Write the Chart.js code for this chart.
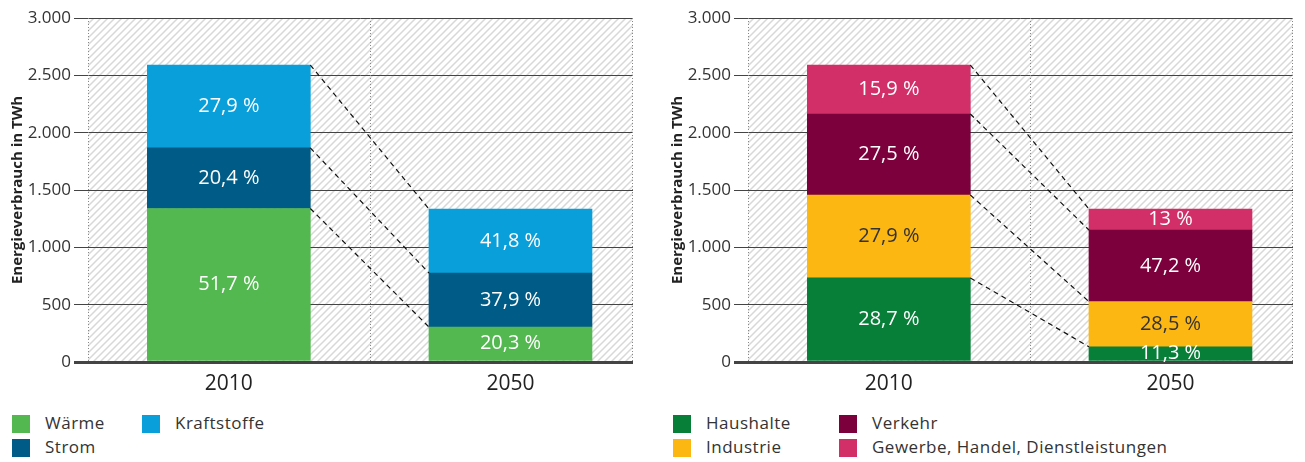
<!DOCTYPE html>
<html>
<head>
<meta charset="utf-8">
<script src="https://cdn.jsdelivr.net/npm/chart.js@4"></script>
<style>
  body { margin: 0; background: #fff; font-family: "Open Sans", sans-serif; color: #333; }
  #wrap { position: relative; width: 1305px; height: 462px; }
  canvas { position: absolute; top: 0; }
  .legend { position: absolute; top: 414px; font-size: 17px; letter-spacing: 0.5px; }
  .item { position: absolute; white-space: nowrap; height: 20px; line-height: 20px; }
  .item span { position: absolute; left: 0; top: 1px; width: 18px; height: 18px; }
  .item b { position: absolute; left: 33px; top: -1px; font-weight: normal; }
</style>
</head>
<body>
<div id="wrap">
  <canvas id="leftChart" width="645" height="400" style="left:0"></canvas>
  <canvas id="rightChart" width="645" height="400" style="left:660px"></canvas>
  <div class="legend" id="leftLegend" style="left:12px"></div>
  <div class="legend" id="rightLegend" style="left:673px"></div>
</div>
<script>
const years = ["2010", "2050"];
const yTicks = [0, 500, 1000, 1500, 2000, 2500, 3000];

// Energieverbrauch nach Anwendung (TWh)
const waerme = [1339, 305];
const strom = [528, 471];
const kraftstoffe = [723, 558];
const waermeLabels = ["51,7 %", "20,3 %"];
const stromLabels = ["20,4 %", "37,9 %"];
const kraftstoffeLabels = ["27,9 %", "41,8 %"];

// Energieverbrauch nach Sektor (TWh)
const haushalte = [733, 133];
const industrie = [723, 393];
const verkehr = [707, 625];
const gewerbe = [427, 183];
const haushalteLabels = ["28,7 %", "11,3 %"];
const industrieLabels = ["27,9 %", "28,5 %"];
const verkehrLabels = ["27,5 %", "47,2 %"];
const gewerbeLabels = ["15,9 %", "13 %"];

document.addEventListener("DOMContentLoaded", function () {
  const font = "Open Sans";

  // hatch pattern for plot background
  const pc = document.createElement("canvas");
  pc.width = 7;
  pc.height = 7;
  const px = pc.getContext("2d");
  px.fillStyle = "#fff";
  px.fillRect(0, 0, 7, 7);
  px.strokeStyle = "#d8d8d8";
  px.lineWidth = 1.5;
  px.beginPath();
  px.moveTo(-1, 8); px.lineTo(8, -1);
  px.moveTo(-1, 1); px.lineTo(1, -1);
  px.moveTo(6, 8); px.lineTo(8, 6);
  px.stroke();

  const backgroundPlugin = {
    id: "hatch",
    beforeDraw(chart) {
      const a = chart.chartArea;
      const ctx = chart.ctx;
      ctx.save();
      ctx.fillStyle = ctx.createPattern(pc, "repeat");
      ctx.fillRect(a.left, a.top, a.right - a.left, a.bottom - a.top);
      ctx.restore();
    },
    beforeDatasetsDraw(chart) {
      // dotted verticals: left edge, category boundary, right edge
      const a = chart.chartArea;
      const ctx = chart.ctx;
      const xs = [a.left + 0.5, Math.round(chart.scales.x.getPixelForValue(0.5)) + 0.5, a.right - 0.5];
      ctx.save();
      ctx.strokeStyle = "#888";
      ctx.lineWidth = 1;
      ctx.setLineDash([1, 2]);
      xs.forEach((x) => {
        ctx.beginPath();
        ctx.moveTo(x, a.top);
        ctx.lineTo(x, a.bottom);
        ctx.stroke();
      });
      ctx.restore();
    },
  };

  const labelPlugin = {
    id: "segLabels",
    afterDatasetsDraw(chart) {
      const ctx = chart.ctx;
      ctx.save();
      // dashed connectors between the two bars
      ctx.strokeStyle = "#111";
      ctx.lineWidth = 1.2;
      ctx.setLineDash([5, 4]);
      chart.data.datasets.forEach((ds, i) => {
        const els = chart.getDatasetMeta(i).data;
        const a = els[0].getProps(["x", "y", "width"], true);
        const b = els[1].getProps(["x", "y", "width"], true);
        ctx.beginPath();
        ctx.moveTo(a.x + a.width / 2, a.y);
        ctx.lineTo(b.x - b.width / 2, b.y);
        ctx.stroke();
      });
      ctx.setLineDash([]);
      ctx.font = "20px '" + font + "'";
      ctx.textAlign = "center";
      ctx.textBaseline = "middle";
      chart.data.datasets.forEach((ds, i) => {
        chart.getDatasetMeta(i).data.forEach((el, j) => {
          const p = el.getProps(["x", "y", "base"], true);
          ctx.fillStyle = ds.labelColor;
          ctx.fillText(ds.labels[j], p.x, (p.y + p.base) / 2);
        });
      });
      ctx.restore();
    },
  };

  function points(values) {
    return values.map((v, i) => ({ x: i, y: v }));
  }

  function makeChart(id, datasets) {
    return new Chart(document.getElementById(id), {
      type: "bar",
      data: {
        datasets: datasets.map((d) => ({
          label: d.label,
          data: points(d.values),
          labels: d.labels,
          labelColor: d.labelColor || "#fff",
          backgroundColor: d.color,
          borderWidth: 0,
          barThickness: 163,
        })),
      },
      options: {
        responsive: false,
        animation: false,
        layout: { padding: { top: 18, right: 12, left: 0, bottom: 0 } },
        scales: {
          x: {
            type: "linear",
            stacked: true,
            offset: false,
            min: -0.5,
            max: 1.435,
            afterBuildTicks(scale) {
              scale.ticks = [{ value: 0 }, { value: 1 }];
            },
            afterFit(scale) {
              scale.height = 38;
            },
            ticks: {
              callback: (v) => years[v],
              color: "#222",
              font: { family: font, size: 21 },
              padding: 1,
              maxRotation: 0,
            },
            grid: { display: false, offset: false },
            border: { display: false },
          },
          y: {
            stacked: true,
            min: 0,
            max: 3000,
            afterBuildTicks(scale) {
              scale.ticks = yTicks.map((v) => ({ value: v }));
            },
            afterFit(scale) {
              scale.width = 88;
            },
            ticks: {
              callback: (v) => v.toLocaleString("de-DE"),
              color: "#333",
              font: { family: font, size: 17 },
              padding: 3,
            },
            grid: {
              color: "#444",
              lineWidth: (c) => (c.tick && c.tick.value === 0 ? 3 : 1),
              tickLength: 14,
            },
            border: { display: false },
            title: {
              display: true,
              text: "Energieverbrauch in TWh",
              color: "#222",
              font: { family: font, size: 15, weight: "bold" },
              padding: { top: 9, bottom: 0 },
            },
          },
        },
        plugins: {
          legend: { display: false },
          tooltip: { enabled: false },
        },
      },
      plugins: [backgroundPlugin, labelPlugin],
    });
  }

  const leftSets = [
    { label: "Wärme", values: waerme, labels: waermeLabels, color: "#52b84f" },
    { label: "Strom", values: strom, labels: stromLabels, color: "#005c86" },
    { label: "Kraftstoffe", values: kraftstoffe, labels: kraftstoffeLabels, color: "#089fda" },
  ];
  const rightSets = [
    { label: "Haushalte", values: haushalte, labels: haushalteLabels, color: "#077f38" },
    { label: "Industrie", values: industrie, labels: industrieLabels, color: "#fdb713", labelColor: "#333" },
    { label: "Verkehr", values: verkehr, labels: verkehrLabels, color: "#7b003b" },
    { label: "Gewerbe, Handel, Dienstleistungen", values: gewerbe, labels: gewerbeLabels, color: "#d22f69" },
  ];

  makeChart("leftChart", leftSets);
  makeChart("rightChart", rightSets);

  // legends: two columns, filled top to bottom
  function renderLegend(id, sets, colX) {
    document.getElementById(id).innerHTML = sets
      .map((s, i) => {
        const col = Math.floor(i / 2);
        const row = i % 2;
        return `<div class="item" style="left:${colX[col]}px; top:${row * 24}px">
                  <span style="background:${s.color}"></span><b>${s.label}</b>
                </div>`;
      })
      .join("");
  }
  renderLegend("leftLegend", leftSets, [0, 130]);
  renderLegend("rightLegend", rightSets, [0, 166]);
});
</script>
</body>
</html>
